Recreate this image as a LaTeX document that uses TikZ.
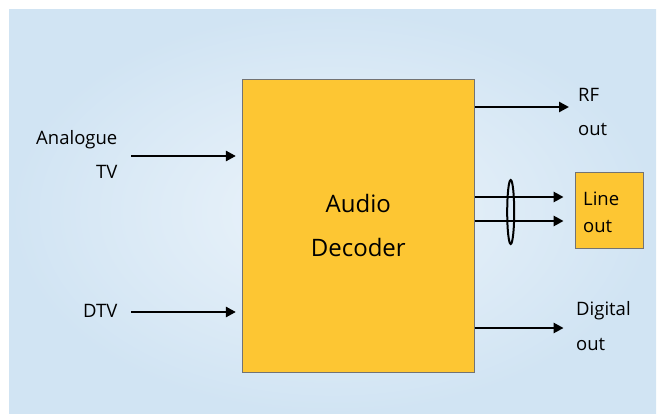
\documentclass[tikz,border=0pt]{standalone}
\usepackage{fontspec}
\setmainfont{Open Sans}
\usetikzlibrary{arrows.meta,positioning}

\definecolor{boxyellow}{RGB}{253,198,51}
\definecolor{bgouter}{RGB}{209,228,243}
\definecolor{bginner}{RGB}{236,244,251}

\begin{document}
\begin{tikzpicture}[x=1pt, y=-1pt,
	every node/.style={font=\fontsize{18.5}{34}\selectfont, inner sep=0pt},
	>={Triangle[length=10pt,width=10pt]},
	sig/.style={->, line width=2.7pt},
	unit/.style={draw=black!55, line width=0.8pt, fill=boxyellow}]
	\useasboundingbox (0,0) rectangle (658,414);
	\shade[inner color=bginner, outer color=bgouter] (9,10) rectangle (656,414);
	% decoder block
	\node[unit, minimum width=232pt, minimum height=293pt, align=center, font=\fontsize{24}{44}\selectfont] (dec) at (358.3,225.5) {Audio\\Decoder};
	\node[unit, minimum width=67.6pt, minimum height=75.6pt] (line) at (609.5,210.5) {};
	% labels
	\node[anchor=east, align=right] (anatxt) at (117.5,154) {Analogue\\TV};
	\node[anchor=east] (dtvtxt) at (117.5,311) {DTV};
	\node[anchor=west, align=left] (rftxt) at (578,112) {RF\\out};
	\node[anchor=west, align=left, font=\fontsize{18.5}{27}\selectfont] (linetxt) at (583,212.5) {Line\\out};
	\node[anchor=west, align=left, font=\fontsize{18.5}{35}\selectfont] (digtxt) at (576,326.5) {Digital\\out};
	% inputs
	\coordinate (ana) at (131,156);
	\coordinate (dtv) at (131,312);
	\draw[sig, shorten >=6pt] (ana) -- (ana -| dec.west);
	\draw[sig, shorten >=6pt] (dtv) -- (dtv -| dec.west);
	% outputs
	\coordinate (rf) at (569,107);
	\coordinate (la) at (563.6,197);
	\coordinate (lb) at (563.6,221);
	\coordinate (dig) at (563.6,328);
	\draw[sig] (rf -| dec.east) -- (rf);
	\draw[sig] (la -| dec.east) -- (la);
	\draw[sig] (lb -| dec.east) -- (lb);
	\draw[sig] (dig -| dec.east) -- (dig);
	\draw[line width=2pt] (510.7,212) ellipse [x radius=3.5pt, y radius=32pt];
\end{tikzpicture}
\end{document}
